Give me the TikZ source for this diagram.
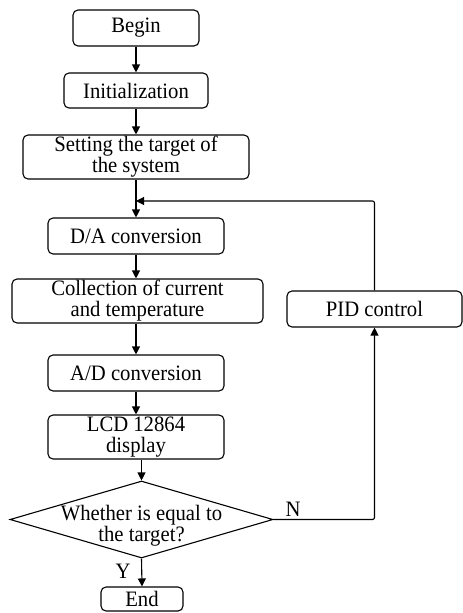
\documentclass[tikz,border=0pt]{standalone}
\usepackage{fontspec}
\setmainfont{Liberation Serif}[FakeStretch=0.94]
\usetikzlibrary{shapes.geometric,arrows.meta}
\begin{document}
\begin{tikzpicture}[x=1pt,y=-1pt,
  box/.style={draw, rounded corners=5pt, line width=1.1pt, inner sep=0pt, align=center},
  arr/.style={line width=1.1pt, -{Triangle[length=8pt,width=8pt]}},
  every node/.append style={font=\fontsize{22}{21}\selectfont}]
\useasboundingbox (0,0) rectangle (463,613);
\node[box, minimum width=126pt, minimum height=36pt] (begin) at (136,28) {Begin};
\node[box, minimum width=144pt, minimum height=35pt] (init) at (136,90.5) {Initialization};
\node[box, minimum width=226pt, minimum height=44pt] (set) at (136,157) {Setting the target of\\the system};
\node[box, minimum width=176pt, minimum height=36pt] (da) at (136,236) {D/A conversion};
\node[box, minimum width=251pt, minimum height=44pt] (coll) at (137.5,301) {Collection of current\\and temperature};
\node[box, minimum width=176pt, minimum height=36pt] (ad) at (136,373) {A/D conversion};
\node[box, minimum width=176pt, minimum height=44pt] (lcd) at (136,437) {LCD 12864\\display};
\node[draw, diamond, line width=1.1pt, minimum width=263pt, minimum height=77pt, inner sep=0pt] (dia) at (141.5,519.5) {};
\node[align=center, inner sep=0pt] (diatext) at (141.5,526) {Whether is equal to\\the target?};
\node[box, minimum width=82pt, minimum height=24pt] (end) at (142,599) {End};
\node[box, minimum width=175pt, minimum height=36pt] (pid) at (374.5,309) {PID control};
\coordinate (loop) at (136,201);
\draw[arr] (begin) -- (init);
\draw[arr] (init) -- (set);
\draw[arr] (set) -- (da);
\draw[arr] (da) -- (coll.north -| da);
\draw[arr] (coll.south -| da) -- (ad);
\draw[arr] (ad) -- (lcd);
\draw[arr] (lcd.south -| dia.north) -- (dia.north);
\draw[arr] (dia.south) -- (end.north);
\draw[arr, rounded corners=2pt] (dia.east) -| (pid.south);
\draw[arr, rounded corners=2pt] (pid.north) |- (loop);
\node[inner sep=0pt] (nlab) at (293,509) {N};
\node[inner sep=0pt] (ylab) at (123,571) {Y};
\end{tikzpicture}
\end{document}
